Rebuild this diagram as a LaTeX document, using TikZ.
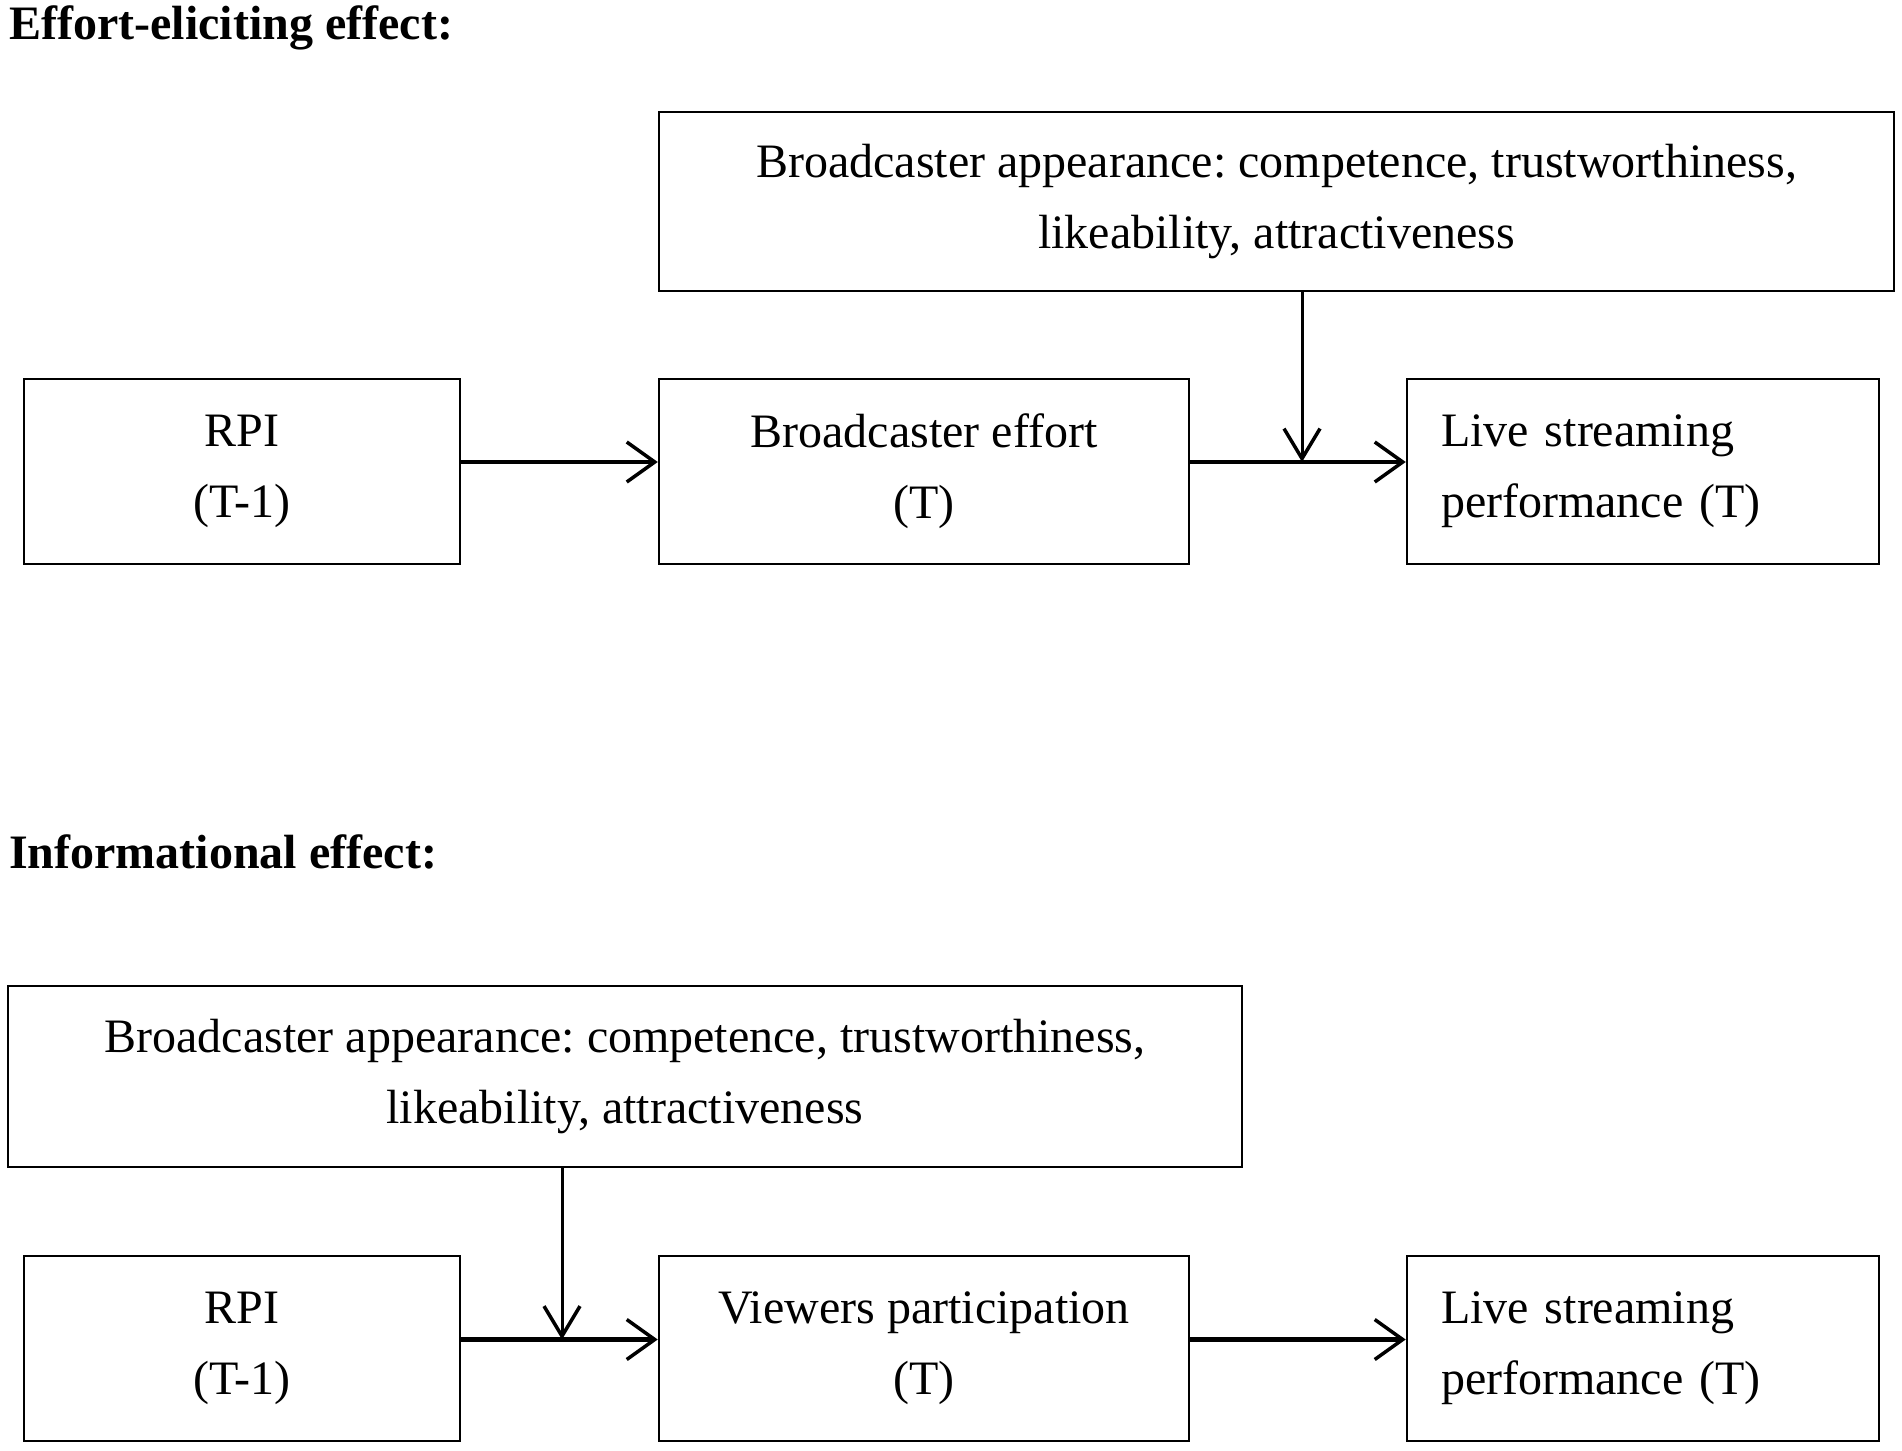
\documentclass[tikz,border=0pt]{standalone}
\usepackage{fontspec}
\setmainfont{Liberation Serif}
\usetikzlibrary{arrows.meta}
\begin{document}
\frenchspacing
\begin{tikzpicture}[x=1pt,y=-1pt,
  box/.style={draw,line width=2.5pt,minimum height=185pt,inner sep=0pt,
    font=\fontsize{48}{71}\selectfont,align=center},
  ttl/.style={anchor=base west,inner sep=0pt,font=\fontsize{48}{54}\selectfont\bfseries},
  flow/.style={line width=4.5pt,-{Straight Barb[length=28pt,width=40pt,line width=3.5pt]}},
  modr/.style={line width=3pt,-{Straight Barb[length=30pt,width=36pt,line width=3.5pt]}}]
\useasboundingbox (0,0) rectangle (1902,1450);
% titles
\node[ttl] (t1) at (9,40) {Effort-eliciting effect:};
\node[ttl] (t2) at (9,868) {Informational effect:};
% top panel
\node[box,minimum width=1235pt,minimum height=179pt] (A) at (1276.5,201.5)
  {Broadcaster appearance: competence, trustworthiness,\\likeability, attractiveness};
\node[box,minimum width=436pt] (R1) at (242,471.5) {RPI\\(T-1)};
\node[box,minimum width=530pt] (E1) at (924,471.5) {Broadcaster effort\\(T)};
\node[box,minimum width=472pt,text width=404pt,align=left] (L1) at (1643,471.5)
  {Live streaming\\performance (T)};
\coordinate (a1) at (0,462);
\coordinate (j1) at (1302,462);
\draw[flow] (R1.east |- a1) -- (E1.west |- a1);
\draw[flow] (E1.east |- a1) -- (L1.west |- a1);
\draw[modr] (A.south -| j1) -- (j1);
% bottom panel
\node[box,minimum width=1234pt,minimum height=181pt] (B) at (625,1076.5)
  {Broadcaster appearance: competence, trustworthiness,\\likeability, attractiveness};
\node[box,minimum width=436pt] (R2) at (242,1348.5) {RPI\\(T-1)};
\node[box,minimum width=530pt] (V2) at (924,1348.5) {Viewers participation\\(T)};
\node[box,minimum width=472pt,text width=404pt,align=left] (L2) at (1643,1348.5)
  {Live streaming\\performance (T)};
\coordinate (a2) at (0,1339.5);
\coordinate (j2) at (562,1339.5);
\draw[flow] (R2.east |- a2) -- (V2.west |- a2);
\draw[flow] (V2.east |- a2) -- (L2.west |- a2);
\draw[modr] (B.south -| j2) -- (j2);
\end{tikzpicture}
\end{document}
